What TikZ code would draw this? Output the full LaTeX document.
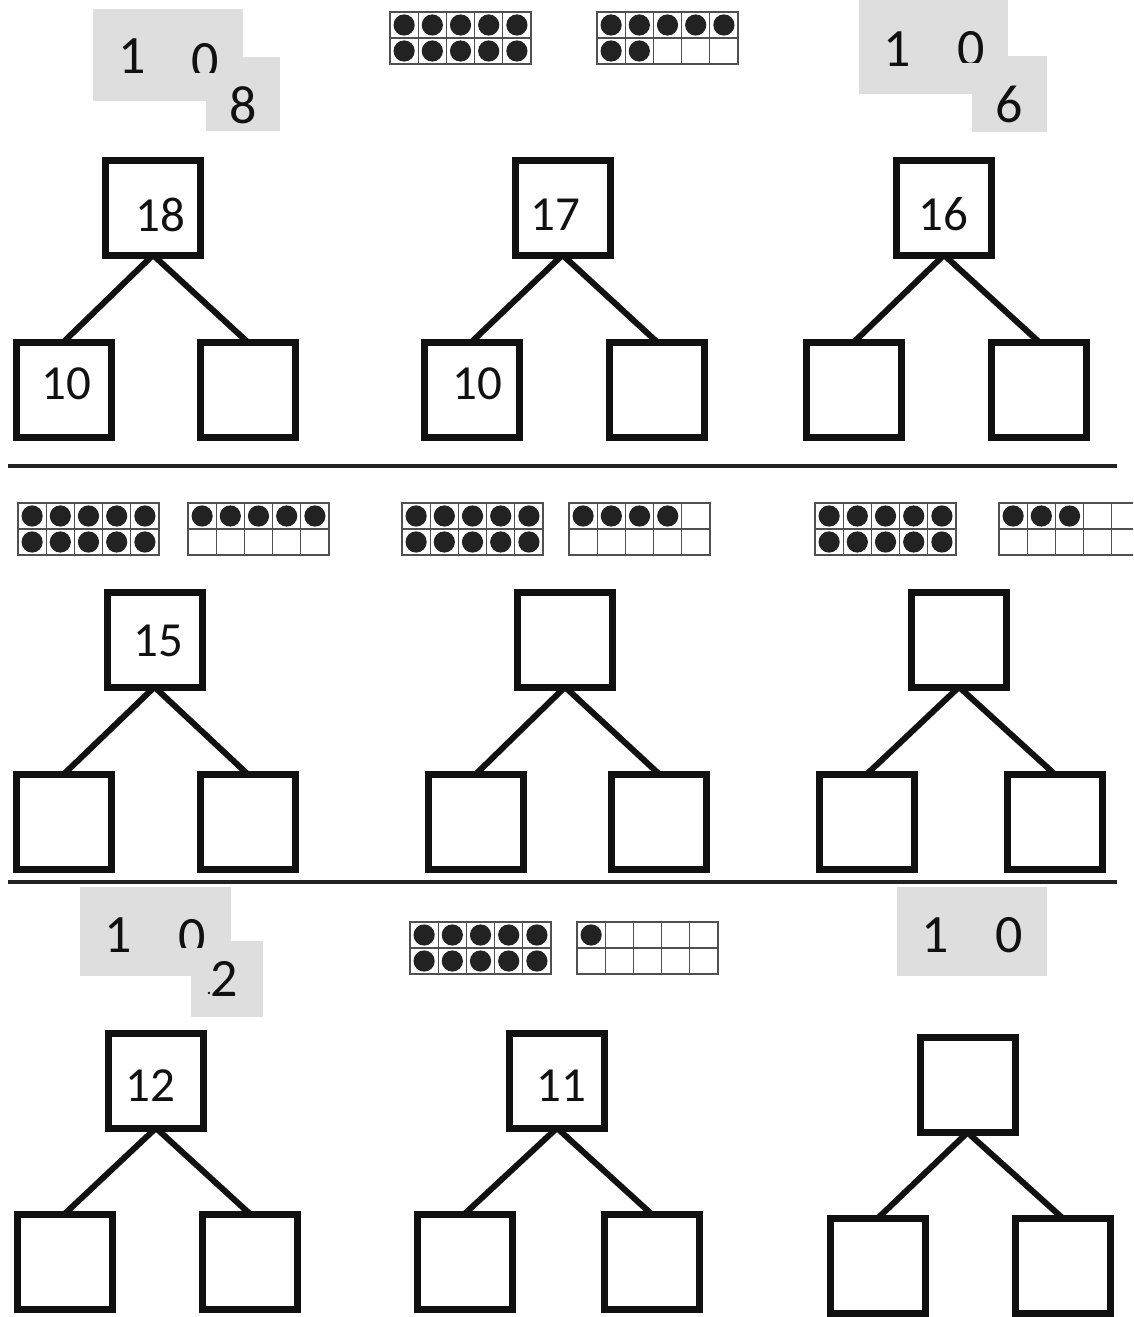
\documentclass[tikz,border=0pt]{standalone}
\usepackage{fontspec}
\setmainfont{Carlito}
\definecolor{cardgray}{HTML}{DEDEDE}
\definecolor{ink}{HTML}{111111}
\definecolor{dotc}{HTML}{222222}
\definecolor{gridc}{HTML}{505050}
\tikzset{
  treebox/.style={draw=ink, line width=7pt, minimum size=95pt, inner sep=0pt, outer sep=0pt},
  branch/.style={draw=ink, line width=6pt},
  num/.style={font=\fontsize{49}{50}\selectfont, inner sep=0pt, text=ink},
  cardnum/.style={font=\fontsize{54}{56}\selectfont, inner sep=0pt, text=ink},
  card/.style={fill=cardgray, draw=none},
  divider/.style={draw=dotc, line width=4.5pt},
  framegrid/.style={draw=gridc, line width=1.3pt},
  tdot/.style={fill=dotc, draw=none}
}
\newcommand{\numtree}[6]{%
  \node[treebox] (#1t) at (#2,#3) {};
  \node[treebox] (#1l) at (#4,#6) {};
  \node[treebox] (#1r) at (#5,#6) {};
  \draw[branch] (#1t.south) -- (#1l.north);
  \draw[branch] (#1t.south) -- (#1r.north);
}
\newcommand{\tenframe}[4]{%
  \begin{scope}[shift={(#1,#2)}]
    \node[framegrid, rectangle, minimum width=141pt, minimum height=52pt, inner sep=0pt, outer sep=0pt, anchor=north west] (#4) at (0,0) {};
    \foreach \c in {1,2,3,4} {\draw[framegrid] (28.2*\c,0) -- (28.2*\c,52);}
    \draw[framegrid] (0,26) -- (141,26);
    \foreach \i in {1,...,#3} {
      \pgfmathtruncatemacro{\col}{mod(\i-1,5)}
      \pgfmathtruncatemacro{\row}{div(\i-1,5)}
      \fill[tdot] (14.1+28.2*\col,13+26*\row) circle (10.6);
    }
  \end{scope}
}
\begin{document}
\begin{tikzpicture}[x=1pt,y=-1pt]
\useasboundingbox (0,0) rectangle (1133,1317);
\clip (0,0) rectangle (1133,1317);
\fill[white] (0,0) rectangle (1133,1317);

% ---------- Row 1 ----------
% arrow card 18
\fill[card] (93,9) rectangle (243,101);
\fill[card] (206,57) rectangle (280,131);
\node[cardnum] (c1one) at (132,56) {1};
\begin{scope}
  \clip (180,30) rectangle (230,72);
  \node[cardnum] (c1zero) at (205,61) {0};
\end{scope}
\node[cardnum] (c1eight) at (243.5,105) {8};

% ten frames 17
\tenframe{390}{12}{10}{f1a}
\tenframe{597}{12}{7}{f1b}

% arrow card 16
\fill[card] (859,0) rectangle (1008,94);
\fill[card] (972,56) rectangle (1047,132);
\node[cardnum] (c2one) at (897.5,49) {1};
\begin{scope}
  \clip (950,20) rectangle (995,62);
  \node[cardnum] (c2zero) at (971.5,49) {0};
\end{scope}
\node[cardnum] (c2six) at (1009.5,104.5) {6};

\numtree{a}{153}{207.5}{63.5}{247.5}{389.5}
\numtree{b}{562.5}{207.5}{471.5}{657}{389.5}
\numtree{c}{944}{207.5}{854}{1039}{389.5}
\node[num] (ta) at (160,214.5) {18};
\node[num] (tal) at (66.5,384) {10};
\node[num] (tb) at (555,214.5) {17};
\node[num] (tbl) at (477,384) {10};
\node[num] (tc) at (943,214.5) {16};

\draw[divider] (8,466) -- (1117,466);

% ---------- Row 2 ----------
\tenframe{18}{503}{10}{f2a}
\tenframe{188}{503}{5}{f2b}
\tenframe{402}{503}{10}{f2c}
\tenframe{569}{503}{4}{f2d}
\tenframe{815}{503}{10}{f2e}
\tenframe{999}{503}{3}{f2f}

\numtree{d}{154.5}{639.5}{64}{247.5}{821.5}
\numtree{e}{565}{639.5}{476}{659}{821.5}
\numtree{f}{959}{639.5}{867}{1054.5}{821.5}
\node[num] (td) at (158,641) {15};

\draw[divider] (8,882) -- (1117,882);

% ---------- Row 3 ----------
% arrow card 12
\fill[card] (80,887) rectangle (231,976);
\fill[card] (191,941) rectangle (263,1017);
\node[cardnum] (c3one) at (118,935) {1};
\begin{scope}
  \clip (170,905) rectangle (215,947);
  \node[cardnum] (c3zero) at (192.5,937) {0};
\end{scope}
\node[cardnum] (c3two) at (224,978.5) {2};
\fill[ink] (209,993) circle (1.4);

\tenframe{410}{922}{10}{f3a}
\tenframe{577}{922}{1}{f3b}

% arrow card 10
\fill[card] (897,887) rectangle (1047,976);
\node[cardnum] (c4one) at (935.5,935) {1};
\node[cardnum] (c4zero) at (1009.5,935) {0};

\numtree{g}{156}{1080.5}{64.5}{250}{1261.5}
\numtree{h}{557}{1080.5}{464.5}{651.5}{1261.5}
\numtree{k}{967.5}{1085}{877.5}{1063}{1266}
\node[num] (tg) at (150,1086) {12};
\node[num] (th) at (561,1086) {11};
\end{tikzpicture}
\end{document}
